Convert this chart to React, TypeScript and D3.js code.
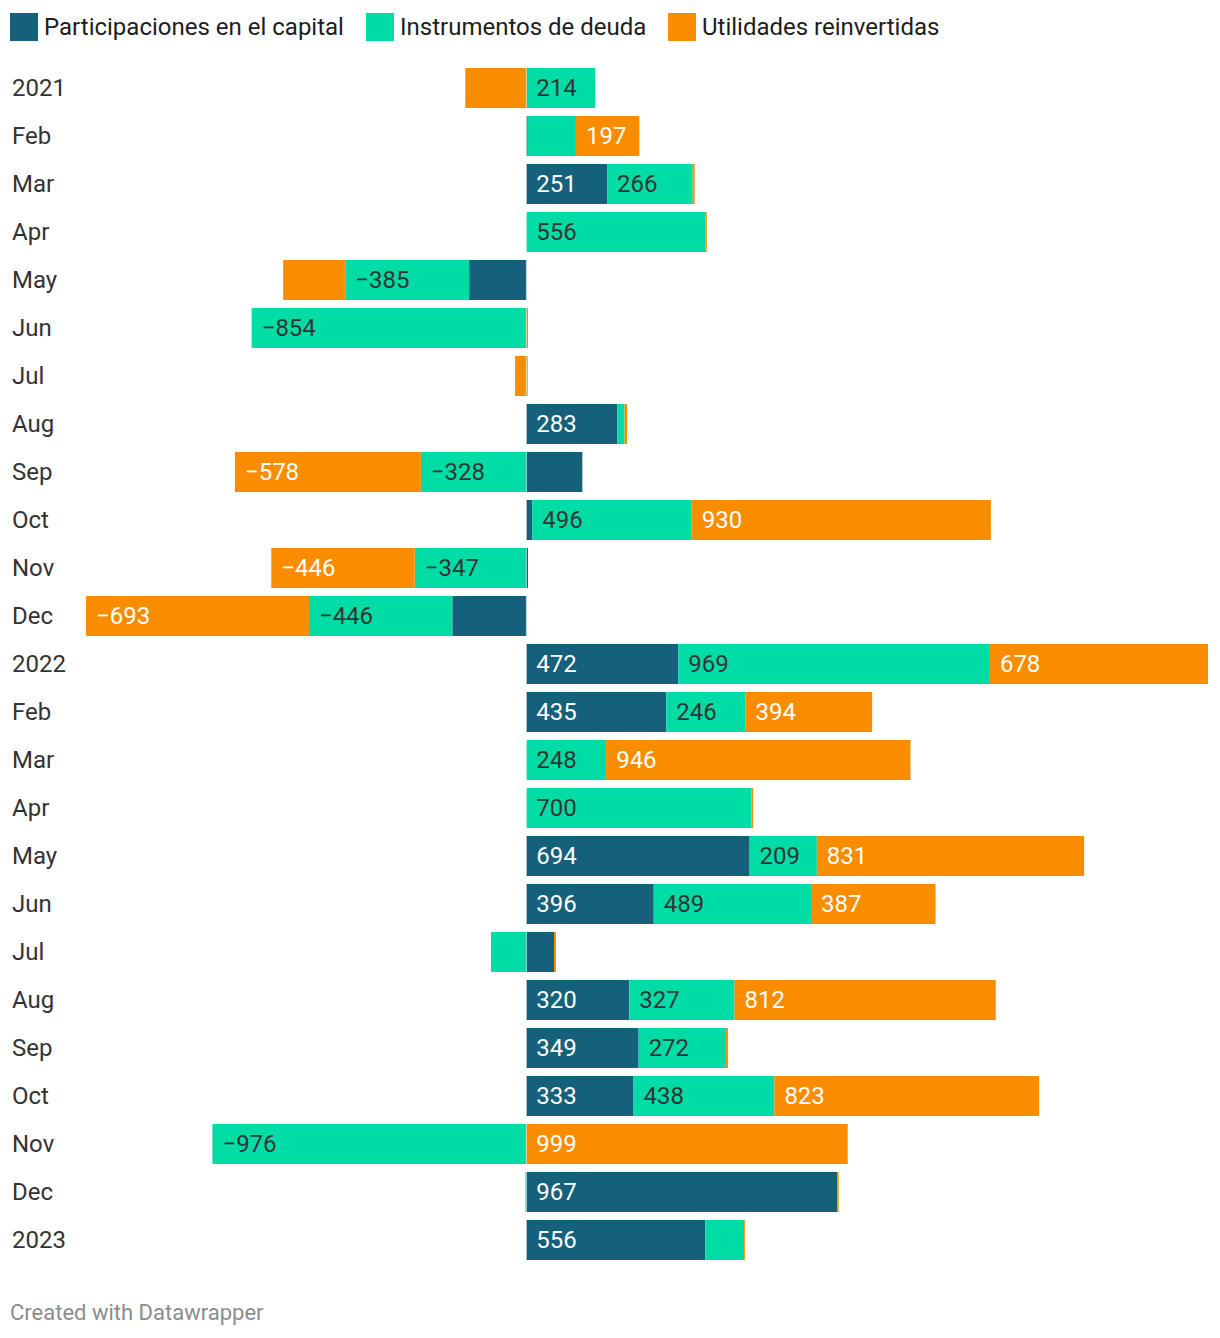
import React, { useEffect } from "react";
import * as d3 from "d3";

const categories = [
  "2021", "Feb", "Mar", "Apr", "May", "Jun", "Jul", "Aug", "Sep", "Oct", "Nov", "Dec",
  "2022", "Feb", "Mar", "Apr", "May", "Jun", "Jul", "Aug", "Sep", "Oct", "Nov", "Dec",
  "2023",
];
const capital = [0, 4, 251, 0, -178, 0, 0, 283, 174, 18, 5, -230, 472, 435, 0, 0, 694, 396, 86, 320, 349, 333, 0, 967, 556];
const deuda = [214, 150, 266, 556, -385, -854, 4, 22, -328, 496, -347, -446, 969, 246, 248, 700, 209, 489, -110, 327, 272, 438, -976, -3, 121];
const utilidades = [-190, 197, 6, 5, -193, 5, -35, 8, -578, 930, -446, -693, 678, 394, 946, 5, 831, 387, 6, 812, 6, 823, 999, 4, 3];

const seriesNames = ["Participaciones en el capital", "Instrumentos de deuda", "Utilidades reinvertidas"];
const seriesKeys = ["capital", "deuda", "utilidades"];
const colors = ["#15607a", "#00dca6", "#fa8c00"];
const labelColors = ["#ffffff", "#333333", "#ffffff"];

const W = 1220;
const H = 1338;
const FONT = "Roboto, 'Noto Sans', sans-serif";
const FS = 24;

export default function App() {
  useEffect(() => {
    document.body.style.margin = "0";
  }, []);

  const rows = categories.map((c, i) => ({
    i,
    name: c,
    capital: capital[i],
    deuda: deuda[i],
    utilidades: utilidades[i],
  }));

  const stack = d3
    .stack<any>()
    .keys(seriesKeys)
    .offset(d3.stackOffsetDiverging);
  const layers = stack(rows);

  const minV = d3.min(layers, (l) => d3.min(l, (d) => d[0])) as number;
  const maxV = d3.max(layers, (l) => d3.max(l, (d) => d[1])) as number;

  const x = d3.scaleLinear().domain([minV, maxV]).range([86, 1208]);
  const y = d3
    .scaleBand<number>()
    .domain(d3.range(categories.length))
    .range([64, 64 + 48 * categories.length])
    .paddingInner(8 / 48)
    .paddingOuter(4 / 48);

  const fmt = (v: number) => (v < 0 ? "\u2212" + Math.abs(v) : String(v));
  // hide a value label when it does not fit inside its segment
  const labelFits = (w: number, txt: string) => txt.length * 0.5625 * FS + 22 <= w;

  const legendX = [10, 366, 668];

  return (
    <svg width={W} height={H} style={{ display: "block", fontFamily: FONT }}>
      <rect width={W} height={H} fill="#ffffff" />

      {/* legend */}
      {seriesNames.map((s, k) => (
        <g key={s} transform={`translate(${legendX[k]},13)`}>
          <rect width={28} height={28} fill={colors[k]} />
          <text x={34} y={14} dy="0.32em" fontSize={FS} fill="#1d1d1d">
            {s}
          </text>
        </g>
      ))}

      {/* category labels */}
      {categories.map((c, i) => (
        <text
          key={"c" + i}
          x={12}
          y={(y(i) as number) + y.bandwidth() / 2}
          dy="0.32em"
          fontSize={FS}
          fill="#333333"
        >
          {c}
        </text>
      ))}

      {/* bars */}
      {layers.map((layer, k) => (
        <g key={layer.key}>
          {layer.map((d, i) => {
            const x0 = x(Math.min(d[0], d[1]));
            const x1 = x(Math.max(d[0], d[1]));
            const w = x1 - x0;
            if (w <= 0) return null;
            const v = (rows[i] as any)[layer.key] as number;
            const txt = fmt(v);
            return (
              <g key={i}>
                <rect x={x0} y={y(i)} width={w} height={y.bandwidth()} fill={colors[k]} />
                {labelFits(w, txt) && (
                  <text
                    x={x0 + 10}
                    y={(y(i) as number) + y.bandwidth() / 2}
                    dy="0.32em"
                    fontSize={FS}
                    fill={labelColors[k]}
                  >
                    {txt}
                  </text>
                )}
              </g>
            );
          })}
        </g>
      ))}

      {/* zero line */}
      <line x1={x(0)} x2={x(0)} y1={60} y2={1270} stroke="#ffffff" strokeOpacity={0.45} strokeWidth={1} />

      <text x={10} y={1320} fontSize={22} fill="#8c8c8c">
        Created with Datawrapper
      </text>
    </svg>
  );
}
